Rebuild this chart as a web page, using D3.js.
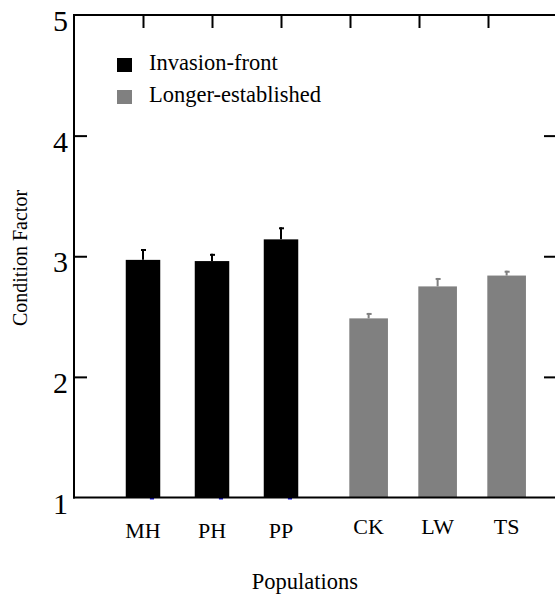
<!DOCTYPE html>
<html>
<head>
<meta charset="utf-8">
<script src="https://cdn.jsdelivr.net/npm/d3@7"></script>
<style>
  body { margin: 0; background: #fff; }
</style>
</head>
<body>
<svg id="content"></svg>
<script>
// chart values
const populations = ["MH", "PH", "PP", "CK", "LW", "TS"];
const groups = ["Invasion-front", "Invasion-front", "Invasion-front",
                "Longer-established", "Longer-established", "Longer-established"];
const positions = [1, 2, 3, 4.27, 5.27, 6.27];
const means = [2.97, 2.96, 3.14, 2.485, 2.75, 2.84];
const errors = [0.09, 0.06, 0.10, 0.045, 0.07, 0.04];
const yTicks = [1, 2, 3, 4, 5];
const topTicks = [1, 2, 3, 4, 5, 6];
const legendItems = ["Invasion-front", "Longer-established"];
const colors = { "Invasion-front": "#000000", "Longer-established": "#808080" };

const serif = "'Liberation Serif', 'Times New Roman', Times, 'DejaVu Serif', serif";

const margin = { top: 15, right: 0, bottom: 102, left: 75 },
      width = 555,
      height = 601;

const svg = d3.select("#content")
    .attr("width", width)
    .attr("height", height)
    .attr("font-family", serif);

// x is a plain linear scale, ticks 1..6 across the top
const x = d3.scaleLinear()
    .domain([0, 7])
    .range([margin.left - 1, 557]);

const y = d3.scaleLinear()
    .domain([1, 5])
    .range([height - margin.bottom + 0.5 - 2, margin.top]);

const tickLen = 13;

// left axis
svg.append("g")
    .attr("transform", `translate(${x(0)},0)`)
    .call(d3.axisRight(y).tickValues(yTicks.slice(1, 4)).tickSize(tickLen).tickFormat(""))
    .call(g => g.select(".domain").remove())
    .call(g => g.selectAll("line").attr("stroke-width", 2));

// tick labels on the left
svg.append("g")
    .selectAll("text")
    .data(yTicks)
    .enter()
    .append("text")
      .attr("x", 68)
      .attr("y", d => y(d) + 16)
      .attr("text-anchor", "end")
      .attr("font-family", serif)
      .attr("font-size", 30)
      .text(d => d);

// right axis (frame edge is outside the picture)
svg.append("g")
    .attr("transform", `translate(${x(7)},0)`)
    .call(d3.axisLeft(y).tickValues(yTicks.slice(1, 4)).tickSize(tickLen).tickFormat(""))
    .call(g => g.select(".domain").remove())
    .call(g => g.selectAll("line").attr("stroke-width", 2));

// top axis
svg.append("g")
    .attr("transform", `translate(0,${y(5)})`)
    .call(d3.axisBottom(x).tickValues(topTicks).tickSize(tickLen).tickFormat(""))
    .call(g => g.select(".domain").remove())
    .call(g => g.selectAll("line").attr("stroke-width", 2));

// bars
const bw = { "Invasion-front": 0.5, "Longer-established": 0.56 };
const data = populations.map((p, i) => ({
    name: p, group: groups[i], pos: positions[i], mean: means[i], err: errors[i]
}));

svg.append("g")
    .selectAll("rect")
    .data(data)
    .enter()
    .append("rect")
      .attr("x", d => x(d.pos - bw[d.group] / 2))
      .attr("width", d => x(bw[d.group]) - x(0))
      .attr("y", d => y(d.mean))
      .attr("height", d => y(1) - y(d.mean))
      .attr("fill", d => colors[d.group]);

// upper error bars
const eb = svg.append("g");
eb.selectAll("line.stem")
    .data(data)
    .enter()
    .append("line")
      .attr("class", "stem")
      .attr("x1", d => x(d.pos))
      .attr("x2", d => x(d.pos))
      .attr("y1", d => y(d.mean))
      .attr("y2", d => y(d.mean + d.err))
      .attr("stroke", d => colors[d.group])
      .attr("stroke-width", 2);
eb.selectAll("line.cap")
    .data(data)
    .enter()
    .append("line")
      .attr("class", "cap")
      .attr("x1", d => x(d.pos) - 2)
      .attr("x2", d => x(d.pos) + 3)
      .attr("y1", d => y(d.mean + d.err) + 1)
      .attr("y2", d => y(d.mean + d.err) + 1)
      .attr("stroke", d => colors[d.group])
      .attr("stroke-width", 2);

// little blue marks at the foot of the black bars
svg.append("g")
    .selectAll("line")
    .data(data.filter(d => d.group === "Invasion-front"))
    .enter()
    .append("line")
      .attr("x1", d => x(d.pos + 0.1))
      .attr("x2", d => x(d.pos + 0.16))
      .attr("y1", y(1) + 1)
      .attr("y2", y(1) + 1)
      .attr("stroke", "#1010e0")
      .attr("stroke-width", 2);

// frame lines
svg.append("line")
    .attr("x1", x(0)).attr("x2", x(0))
    .attr("y1", y(5) - 1).attr("y2", y(1) + 1)
    .attr("stroke", "#000").attr("stroke-width", 2);
svg.append("line")
    .attr("x1", x(0) - 1).attr("x2", x(7))
    .attr("y1", y(5)).attr("y2", y(5))
    .attr("stroke", "#000").attr("stroke-width", 2);
svg.append("line")
    .attr("x1", x(0) - 1).attr("x2", x(7))
    .attr("y1", y(1)).attr("y2", y(1))
    .attr("stroke", "#000").attr("stroke-width", 2);

// category labels
svg.append("g")
    .selectAll("text")
    .data(data)
    .enter()
    .append("text")
      .attr("x", d => x(d.pos))
      .attr("y", d => d.group === "Invasion-front" ? 538 : 534)
      .attr("text-anchor", "middle")
      .attr("font-family", serif)
      .attr("font-size", 22)
      .text(d => d.name);

// axis titles
svg.append("text")
    .attr("x", 305)
    .attr("y", 589)
    .attr("text-anchor", "middle")
    .attr("font-family", serif)
    .attr("font-size", 22.5)
    .text("Populations");

svg.append("text")
    .attr("transform", "translate(27,258) rotate(-90)")
    .attr("text-anchor", "middle")
    .attr("font-family", serif)
    .attr("font-size", 20)
    .text("Condition Factor");

// legend
const legend = svg.append("g")
    .selectAll("g")
    .data(legendItems)
    .enter()
    .append("g")
      .attr("transform", (d, i) => `translate(117,${58 + i * 32})`);
legend.append("rect")
    .attr("width", 15)
    .attr("height", 14)
    .attr("fill", d => colors[d]);
legend.append("text")
    .attr("x", 32)
    .attr("y", 12)
    .attr("font-family", serif)
    .attr("font-size", 22.5)
    .text(d => d);
</script>
</body>
</html>
